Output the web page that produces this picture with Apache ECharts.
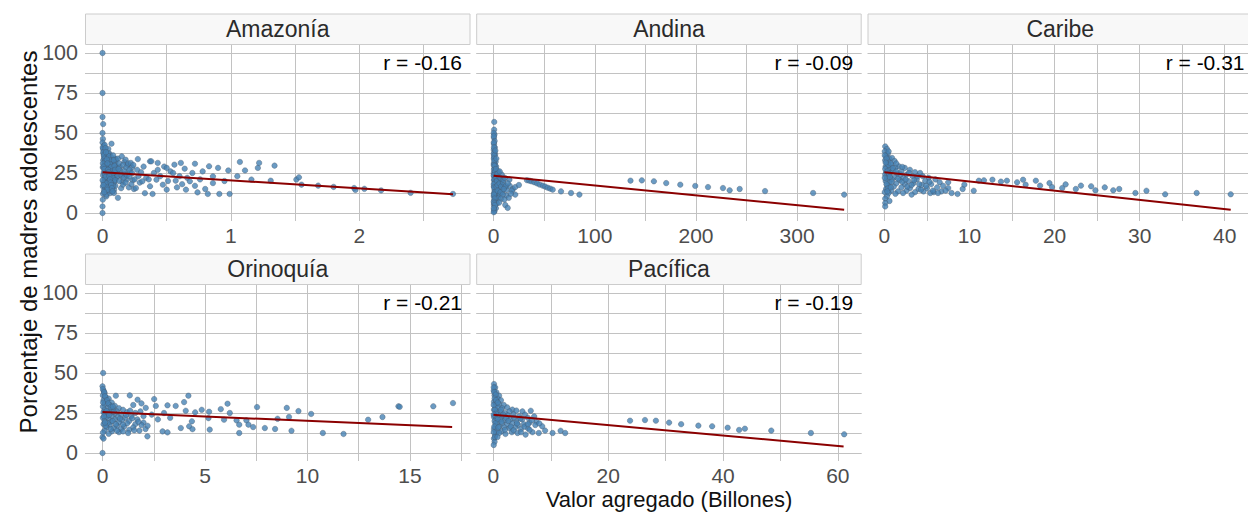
<!DOCTYPE html>
<html><head><meta charset="utf-8">
<script src="https://cdn.jsdelivr.net/npm/echarts@6/dist/echarts.min.js"></script>
<style>html,body{margin:0;padding:0;background:#fff}#c{width:1248px;height:512px}</style>
</head><body><div id="c"></div>
<script>
const regions = ['Amazonía','Andina','Caribe','Orinoquía','Pacífica'];
const rLabels = ['r = -0.16','r = -0.09','r = -0.31','r = -0.21','r = -0.19'];
const yTickLabels = [0,25,50,75,100];
const yGridValues = [0,12.5,25,37.5,50,62.5,75,87.5,100];
const xTickLabels = [[0,1,2],[0,100,200,300],[0,10,20,30,40],[0,5,10,15],[0,20,40,60]];
const xGridValues = [
  [0,0.5,1,1.5,2,2.5],
  [0,50,100,150,200,250,300,350],
  [0,5,10,15,20,25,30,35,40],
  [0,2.5,5,7.5,10,12.5,15,17.5],
  [0,10,20,30,40,50,60]
];
const xTitle = 'Valor agregado (Billones)';
const yTitle = 'Porcentaje de madres adolescentes';

const fitAmazonia = [[0,25.4],[2.73,11.7]];
const fitAndina = [[0,23.3],[346.5,2.1]];
const fitCaribe = [[0,25.4],[40.7,2.1]];
const fitOrinoquia = [[0,25.6],[17.06,16.2]];
const fitPacifica = [[0,23.9],[61,4.1]];

const ptsAmazonia = [
[0,100],[0,75],[0,60],[0.005,55.6],[0,50],[0.003,46.3],[0.07,43.3],
[0,0],[0,4.1],[0.002,8.3],[0.03,10.4],[0.12,9.5],
[0,44],[0.01,42],[0.004,40],[0.02,39],[0.008,37],[0.03,36.5],[0.012,35],[0.04,34.5],[0.006,33],[0.025,32],[0.05,31.5],[0.015,30.5],[0.035,29.5],[0.002,28.5],[0.045,28],[0.02,27],[0.06,26.5],[0.01,25.5],[0.03,25],[0.055,24],[0.005,23.5],[0.04,22.5],[0.018,21.5],[0.065,21],[0.028,20],[0.008,19],[0.05,18.5],[0.035,17.5],[0.003,16.5],[0.022,15.5],[0.06,15],[0.012,14],[0.04,13],[0.004,12],[0.03,11.5],[0.015,38.5],[0.045,40],[0.055,37],[0.065,35],[0.075,33],[0.085,31],[0.07,29],[0.09,27.5],[0.08,25],[0.095,23],[0.075,20.5],[0.085,18.5],[0.07,16.5],[0.09,14.5],[0.06,12.5],[0.1,29.5],[0.11,26],[0.105,21.5],[0.1,17],
[0.002,41],[0.006,38],[0.011,36],[0.016,34],[0.021,32.5],[0.026,30],[0.031,28],[0.036,26],[0.041,24.5],[0.046,22],[0.051,20],[0.056,18],[0.061,16.5],[0.066,14],[0.071,23.5],[0.076,27],[0.081,29],[0.086,21.5],[0.091,19.5],[0.096,25.5],[0.101,31.5],[0.106,33.5],[0.111,28],[0.116,23],[0.003,31],[0.009,29],[0.014,27.5],[0.019,24],[0.024,22.5],[0.029,18.5],[0.034,16],[0.039,14.5],[0.044,37.5],[0.049,35.5],[0.054,33],[0.059,30.5],[0.064,28.5],[0.069,26],[0.074,24],[0.079,22],[0.084,17],[0.089,12.5],[0.094,34],[0.099,20.5],[0.001,20.5],[0.007,17.5],[0.013,13],[0.017,42.5],[0.023,40.5],[0.027,38],[0.033,33.5],[0.038,31],[0.043,27],[0.048,25.5],[0.053,23],[0.058,21],[0.063,19],[0.068,17.5],[0.073,15.5],[0.078,13.5],[0.083,36],[0.088,33],[0.093,29.5],[0.098,27],[0.135,29],[0.14,26.5],[0.15,23],[0.155,19.5],[0.17,32],[0.175,24.5],[0.19,21],[0.195,30],[0.215,25.5],[0.23,28.5],[0.235,20.5],
[0.12,34],[0.13,31],[0.125,27.5],[0.14,24],[0.13,20],[0.145,15.5],[0.15,35.4],[0.16,30],[0.17,26.5],[0.165,22],[0.16,17.7],[0.18,33.3],[0.185,28.5],[0.19,23.5],[0.18,19],[0.2,31],[0.21,27],[0.21,22.9],[0.205,16],[0.22,31.3],[0.23,25],[0.225,18],[0.24,30],[0.25,21],[0.245,15],[0.26,15.6],[0.27,27],[0.275,33.7],[0.28,23],[0.29,19],[0.31,19.8],[0.30,25.5],[0.33,12.4],[0.32,29],[0.34,22],[0.37,16.7],[0.37,32.3],[0.38,32.3],[0.36,21],[0.39,11.9],[0.40,25],[0.42,20.8],[0.43,31.3],[0.43,27],[0.45,23],[0.47,17.7],[0.48,29],[0.50,28.2],[0.50,14.6],[0.51,20],[0.53,26],[0.55,25],[0.56,30.2],[0.57,20.2],[0.58,16],[0.60,23],[0.61,31.3],[0.62,18],[0.64,27.7],[0.65,14.6],[0.66,22],[0.68,19.8],[0.70,25],[0.72,30.8],[0.72,17],[0.74,12.9],[0.76,21],[0.78,26],[0.80,15],[0.82,11.9],[0.83,29.2],[0.86,18.7],[0.86,22.9],[0.90,28.2],[0.91,11.9],[0.95,20],[0.98,26.6],[0.99,11.9],[1.05,23],[1.07,31.9],[1.11,26.6],[1.16,20.9],[1.21,28.2],[1.22,31.3],[1.31,20.2],[1.34,29.6],[1.51,20.9],[1.53,22.3],[1.55,17.7],[1.68,17.1],[1.80,16.3],[1.96,15.6],[1.97,14.4],[2.04,15.1],[2.17,14.1],[2.40,12.6],[2.73,11.9]
];
const ptsAndina = [
[0.6,56.9],[0.5,52.1],[0.8,49],[0.3,47],[1.0,45],[0.4,43],[1.2,41],[0.2,39.5],[0.9,38],[1.5,36.5],[0.5,35],[1.1,33.5],[2.0,32],[0.3,31],[1.4,30],[2.5,29],[0.7,28],[1.8,27],[3.2,26],[0.2,25],[1.0,24.5],[2.2,24],[4.0,23],[0.6,22.5],[1.6,22],[3.0,21.5],[5.5,21],[0.4,20.5],[2.0,20],[4.2,19.5],[7.0,19],[0.9,18.5],[2.8,18],[5.0,17.5],[9.0,17],[0.3,16.5],[1.5,16],[3.6,15.5],[6.5,15],[0.8,14.5],[2.4,14],[4.8,13.5],[8.5,13],[0.5,12.5],[1.9,12],[3.5,11.5],[6.0,11],[0.2,10.5],[1.2,10],[2.6,9.5],[4.5,9],[0.6,8],[1.8,7],[3.2,6],[0.3,5],[1.0,4],[2.2,3],[0.4,2],[0.8,1],[0.1,0.5],
[0.1,50],[0.2,48],[0.15,44],[0.35,41],[0.1,37],[0.7,36],[0.25,34],[0.6,32.5],[0.15,30],[0.9,29.5],[0.4,27],[1.3,26],[0.1,23.5],[0.8,21],[1.2,19],[0.2,18],[0.6,16],[1.1,13],[0.3,11.5],[0.9,9],[0.1,7],[0.5,6],[1.4,5],[0.2,3],[2.6,22.5],[3.3,20],[2.9,16.5],[4.0,14],[3.9,17.5],[5.8,18.5],[7.5,16.5],[6.8,13],[8.0,21],[9.5,19],[11.5,16],[13,14.5],[16,17],[19,15],[12.5,11],[15,9.5],[9,11.5],[7.5,9],[5.5,6.5],[11.5,5],[4.4,26],[2.7,34],[1.7,39],[2.3,27.5],[3.8,24.5],[5.2,22.8],[6.8,21.8],[9.8,20.8],
[10.6,8.4],[13.9,3.2],[12,17],[15.6,20.8],[18,14],[21.4,16.2],[21.4,11.5],[25,17.5],[11,22],[8,24],[6,26],[14,18.5],[17,12],[10,15],
[33,20.5],[35.3,20.2],[37.5,19.8],[40.3,19.2],[43,18.5],[45.5,17.8],[48.5,17.1],[51,16.5],[53.5,15.8],[56,15.2],[58.4,14.6],[66.6,13.5],[76.5,12.5],[84.8,11.5],
[135.3,20.2],[146.5,20.4],[158.4,19.8],[170.6,18.7],[184.5,17.7],[199.3,16.9],[211.9,16.2],[226.7,15.6],[233.3,14.2],[243.2,15.0],[268.3,13.7],[315.8,12.5],[346.5,11.5]
];
const ptsCaribe = [
[0.1,41.6],[0.3,40],[0.05,38.5],[0.4,37],[0.2,35.5],[0.6,34],[0.9,34.4],[0.1,33],[0.5,32],[1.2,32.5],[0.3,31],[0.8,30],[1.7,29.2],[0.15,29],[0.6,28],[1.3,28.5],[2.4,28.2],[0.4,27],[1.0,26.5],[2.0,26],[3.0,27],[0.2,25.5],[0.7,25],[1.5,24.5],[2.6,24],[3.6,25.5],[4.2,25],[0.1,24],[0.5,23],[1.2,22.5],[2.2,22],[3.3,23],[4.5,23],[5.2,22],[0.3,21.5],[0.9,21],[1.8,20.5],[2.8,20],[3.8,21],[4.8,20],[6.0,21],[0.15,20],[0.6,19],[1.4,18.5],[2.4,18],[3.4,18.5],[4.4,17.5],[5.5,18],[6.5,19.2],[7.5,19.2],[0.4,17],[1.1,16.5],[2.0,16],[3.0,15.5],[4.0,15],[5.0,15.5],[6.2,16],[7.5,15.6],[0.2,15],[0.8,14],[1.6,13.5],[2.6,14],[3.6,13],[4.6,13.5],[5.8,13],[6.7,13.5],[0.5,12.5],[1.3,12],[2.2,12.5],[3.2,11.5],[5.4,12.5],[7.9,12.5],[8.6,11.9],[9.2,15],[9.4,17.7],[0.3,10.5],[0.1,9],[0.6,7.5],[0.1,6.2],[0.1,4.1],
[0.05,36],[0.25,34],[0.45,30],[0.1,27.5],[0.35,26],[0.55,24.5],[0.05,22],[0.25,18],[0.45,15.5],[0.05,13],[0.35,13.5],[0.75,31],[0.65,22.5],[0.85,19.5],[0.75,16],[1.0,28],[1.4,26],[1.6,21.5],[1.9,24],[2.1,19.5],[2.5,21],[2.7,16.5],[2.9,25],[3.2,17.5],[3.5,20.5],[3.9,23],[4.1,18],[4.3,14.5],[4.9,17],[5.3,19.5],[5.7,14],[6.3,12.5],[6.9,17],[7.2,14],[0.15,31.5],[0.5,38.5],[1.4,31],[2.1,28.8],
[10.5,13.9],[11.1,20.2],[11.7,20.4],[12.7,20.8],[13.7,19.6],[14.4,20.2],[15.6,19.2],[16.3,20.8],[16.6,17.7],[17.8,20.2],[18.3,17.1],[19.4,18.7],[19.7,16.2],[20.9,15.6],[21.3,17.9],[22.5,15.0],[23.1,17.1],[24.3,16.7],[24.8,14.2],[25.9,16],[26.9,14.2],[27.6,15],[29.5,12.5],[30.8,13.9],[33.0,11.7],[36.7,12.5],[40.7,11.7]
];
const ptsOrinoquia = [
[0.03,50],[0,41.7],[0.05,39],[0.1,37.5],[0.02,36],[0.15,35],[0.3,34],[0.05,33],[0.2,32],[0.45,31.5],[0.1,30.5],[0.35,30],[0.6,29.5],[0.02,29],[0.25,28],[0.5,27.5],[0.8,28],[0.1,27],[0.4,26.5],[0.7,26],[1.0,27],[0.05,25.5],[0.3,25],[0.6,24.5],[0.9,24],[1.2,25.5],[0.15,23.5],[0.45,23],[0.75,22.5],[1.1,22],[1.4,23],[0.02,22],[0.3,21.5],[0.6,21],[0.95,20.5],[1.3,20],[1.7,21],[0.1,20],[0.4,19.5],[0.8,19],[1.2,18.5],[1.6,18],[2.0,19],[0.05,18],[0.35,17.5],[0.7,17],[1.05,16.5],[1.5,16],[1.9,17.5],[0.2,16],[0.55,15.5],[0.9,15],[1.3,14.5],[1.8,14],[2.1,15],[0.1,14],[0.45,13.5],[0.8,13],[1.25,12.5],[0.3,12],[0,9.9],[0.05,9],[0,0],
[0.02,40],[0.08,38],[0.12,35.5],[0.22,33],[0.03,31.5],[0.28,31],[0.4,28.8],[0.12,25],[0.2,22.7],[0.5,20],[0.25,18.7],[0.65,18],[0.15,17],[0.4,15],[0.7,14],[1.0,13.5],[0.02,12.8],[0.2,26.2],[0.55,25.8],[0.85,21.5],[1.0,17.8],[1.15,23.8],[1.35,26.5],[1.45,21.7],[1.6,25],[1.75,19.5],[1.55,14.2],[1.85,26],[2.0,23],[2.2,17],[0.07,23],[0.12,19],[0.32,23.8],[0.5,29],
[0.65,35.8],[1.33,36],[1.71,33.3],[1.5,30],[1.9,31],[2.11,28.2],[2.19,10.4],[2.52,33.7],[2.6,29.4],[2.4,24],[2.7,21],[2.93,13.5],[3.17,29.8],[3.17,12.9],[3.0,25],[3.3,22],[3.57,29.4],[3.98,31.8],[4.19,35.8],[4.06,26.4],[3.82,15.6],[4.23,16.7],[4.36,19.8],[4.39,14.9],[4.52,25.4],[4.84,27],[5.2,25.8],[5.17,21.8],[5.23,14.6],[5.77,27.4],[5.93,20.8],[6.1,30.8],[6.21,25],[6.54,20.4],[6.67,17.7],[6.67,12.5],[7.02,20.4],[7.12,17.7],[7.35,16.2],[7.54,28.7],[7.92,15.6],[8.42,15],[8.54,21.4],[8.99,28.2],[9.1,22.5],[9.22,13.9],[9.56,26.2],[10.18,24.4],[10.75,12.5],[11.76,11.9],[12.96,20.8],[13.66,22.5],[14.44,29.2],[14.5,28.9],[16.14,29.2],[17.1,31.2]
];
const ptsPacifica = [
[0.1,43.1],[0.3,41],[0.05,39],[0.5,38],[0.98,35.8],[0.2,36],[0.7,34],[1.3,33],[0.1,32],[0.5,31],[1.0,30.5],[1.8,30],[0.3,29],[0.8,28.5],[1.5,28],[2.4,28.5],[3.3,27.1],[0.1,27],[0.6,26],[1.2,25.5],[2.0,25],[2.8,26],[4.0,26.5],[5.05,26],[6.5,26.4],[0.3,24],[0.9,23.5],[1.6,23],[2.5,23.5],[3.5,24],[4.5,23],[5.5,24],[0.1,22.5],[0.5,21.5],[1.2,21],[2.0,20.5],[3.0,21],[4.0,20],[5.0,21],[6.0,22],[7.1,22.9],[0.2,20],[0.7,19],[1.5,18.5],[2.4,18],[3.3,18.5],[4.3,17.5],[5.3,18],[6.3,19],[7.5,19.5],[0.4,17],[1.0,16.5],[1.9,16],[2.8,15.5],[3.8,16],[4.8,15],[6.0,15.5],[8.5,16.7],[0.1,15],[0.6,14],[1.4,13.5],[2.1,11.9],[3.2,13],[4.2,12.5],[5.6,11.5],[6.8,13],[7.9,12.5],[9.0,14],[10.3,12.5],[11.7,13.9],[12.5,12.5],[0.3,11],[0.1,9],[0.2,7],[0.05,5],
[0.05,41],[0.15,38],[0.4,36.5],[0.2,34],[0.45,33],[0.05,30],[0.75,31.5],[0.25,27],[0.45,24.5],[0.05,24],[0.75,21],[0.35,18.5],[0.15,16.5],[0.85,16],[0.45,12.5],[0.25,10],[0.05,13],[1.3,27],[1.7,24],[1.4,19.5],[2.2,22],[2.6,20],[3.0,16.5],[3.6,22],[4.1,18.5],[4.7,21.5],[5.4,16.5],[6.0,18],[6.7,20.5],[7.3,17.5],[8.0,18.5],[2.0,14.5],[3.5,14.2],[4.8,13],[6.3,14.5],[1.0,12.5],[0.7,10],
[23.8,20.2],[26.4,20.6],[28.3,20.2],[30.6,19],[32.7,18],[35.7,17.1],[38.1,16.7],[40.8,15.8],[42.8,14.4],[43.8,15.2],[48.4,14.0],[55.3,12.5],[61.1,11.7]
];

const points = [ptsAmazonia, ptsAndina, ptsCaribe, ptsOrinoquia, ptsPacifica];
const fits = [fitAmazonia, fitAndina, fitCaribe, fitOrinoquia, fitPacifica];

// layout
const panelLeft = [85, 476.2, 867.5, 85, 476.2];
const panelTop = [45, 45, 45, 285, 285];
const panelW = 385.5, panelH = 176, stripH = 30.5;
const FONT = '"Liberation Sans", Arial, sans-serif';
const gridColor = '#c2c2c2';

function limits(pts, pad) {
  let lo = Infinity, hi = -Infinity;
  pts.forEach(p => { lo = Math.min(lo, p[0]); hi = Math.max(hi, p[0]); });
  const r = hi - lo;
  return [lo - pad * r, hi + pad * r];
}

const grids = [], xAxes = [], yAxes = [], series = [], graphics = [];
regions.forEach((name, i) => {
  grids.push({left: panelLeft[i], top: panelTop[i], width: panelW, height: panelH, containLabel: false});
  const lim = limits(points[i], 0.05);
  xAxes.push({
    gridIndex: i, type: 'value', min: lim[0], max: lim[1],
    axisLine: {show: false},
    axisTick: {show: true, length: 4, lineStyle: {color: gridColor}, customValues: xGridValues[i]},
    axisLabel: {customValues: xTickLabels[i], fontSize: 21, lineHeight: 21, color: '#4d4d4d', fontFamily: FONT, margin: 4},
    splitLine: {show: true, lineStyle: {color: gridColor, width: 1}}
  });
  const showY = (i === 0 || i === 3);
  yAxes.push({
    gridIndex: i, type: 'value', min: -5, max: 105,
    axisLine: {show: false},
    axisTick: {show: true, length: 4, lineStyle: {color: gridColor}, customValues: yGridValues},
    axisLabel: {show: showY, customValues: yTickLabels, fontSize: 21.5, lineHeight: 20, color: '#4d4d4d', fontFamily: FONT, margin: 7},
    splitLine: {show: true, lineStyle: {color: gridColor, width: 1}}
  });
  series.push({
    type: 'scatter', xAxisIndex: i, yAxisIndex: i, data: points[i],
    symbolSize: 5.5, z: 2, silent: true,
    itemStyle: {color: '#4682b4', borderColor: 'rgba(70,85,100,0.75)', borderWidth: 0.6}
  });
  series.push({
    type: 'line', xAxisIndex: i, yAxisIndex: i, data: fits[i],
    showSymbol: false, symbol: 'none', z: 3, silent: true,
    lineStyle: {color: '#8b0000', width: 2}
  });
  graphics.push({
    type: 'rect', silent: true, z: 10,
    shape: {x: panelLeft[i] + 0.5, y: panelTop[i] - stripH - 0.5, width: panelW - 1, height: stripH},
    style: {fill: '#f8f8f8', stroke: '#cccccc', lineWidth: 1}
  });
  graphics.push({
    type: 'text', silent: true, z: 11,
    x: panelLeft[i] + panelW / 2, y: panelTop[i] - stripH / 2 - 0.5,
    style: {text: name, fill: '#2b2b2b', fontSize: 23, fontFamily: FONT, align: 'center', verticalAlign: 'middle'}
  });
  graphics.push({
    type: 'text', silent: true, z: 11,
    x: panelLeft[i] + panelW - 8.5, y: panelTop[i] + 17.5,
    style: {text: rLabels[i], fill: '#000', fontSize: 21, fontFamily: FONT, align: 'right', verticalAlign: 'middle'}
  });
});
graphics.push({
  type: 'text', silent: true, x: 669, y: 499.5,
  style: {text: xTitle, fill: '#111', fontSize: 22, lineHeight: 22, fontFamily: FONT, align: 'center', verticalAlign: 'middle'}
});
graphics.push({
  type: 'text', silent: true, x: 28, y: 242, rotation: Math.PI / 2,
  style: {text: yTitle, fill: '#111', fontSize: 24, fontFamily: FONT, align: 'center', verticalAlign: 'middle'}
});

const chart = echarts.init(document.getElementById('c'), null, {renderer: 'svg'});
chart.setOption({
  animation: false,
  backgroundColor: '#fff',
  grid: grids, xAxis: xAxes, yAxis: yAxes, series: series, graphic: graphics
});
</script></body></html>
